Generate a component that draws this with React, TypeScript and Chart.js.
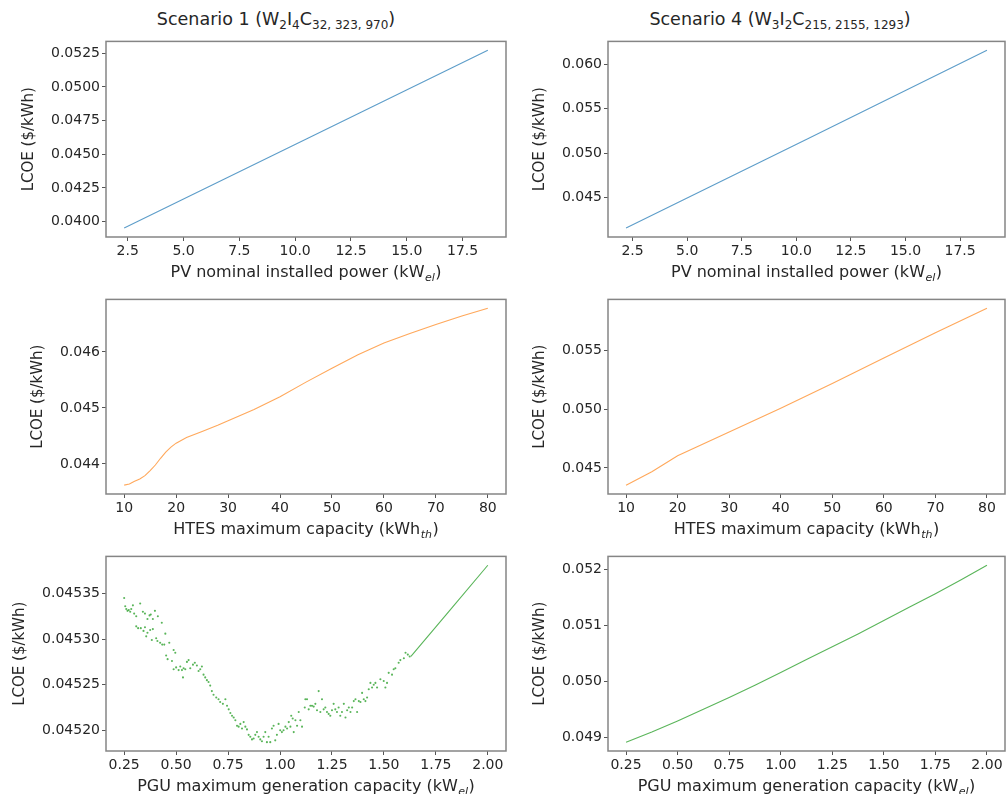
import React, { useEffect, useRef } from "react";
import { Chart, registerables } from "chart.js";
Chart.register(...registerables);

const FONT = '"DejaVu Sans", "Liberation Sans", sans-serif';

// ---------- DATA ----------
// Scenario 1, PV sweep
const pvX1 = [2.34, 10.5, 18.63];
const pvY1 = [0.03951, 0.04613, 0.05272];
// Scenario 4, PV sweep
const pvX4 = [2.2, 10.5, 18.73];
const pvY4 = [0.04156, 0.05157, 0.06156];

// Scenario 1, HTES sweep
const htesX1 = [10, 11, 12, 13, 14, 15, 16, 17, 18, 19, 20, 22, 25, 28, 30, 35, 40, 45, 50, 55, 60, 65, 70, 75, 80];
const htesY1 = [0.04362, 0.04364, 0.04369, 0.04373, 0.04379, 0.04388, 0.04398, 0.0441, 0.04421, 0.0443, 0.04437, 0.04447,
  0.04458, 0.04469, 0.04477, 0.04497, 0.0452, 0.04546, 0.04571, 0.04595, 0.04616, 0.04633, 0.04649, 0.04664, 0.04678];
// Scenario 4, HTES sweep
const htesX4 = [10, 15, 20, 30, 40, 50, 60, 70, 80];
const htesY4 = [0.04353, 0.04467, 0.04603, 0.04804, 0.05007, 0.05218, 0.05435, 0.05648, 0.05857];

// Scenario 1, PGU sweep (scattered part, [x, LCOE])
const pguScatter1: [number, number][] = [
  [0.25, 0.045345], [0.255, 0.045336], [0.26, 0.045333], [0.266, 0.045331], [0.272, 0.045332], [0.279, 0.04533],
  [0.284, 0.045333], [0.292, 0.045337], [0.298, 0.045328], [0.308, 0.045325], [0.308, 0.045314], [0.317, 0.045312],
  [0.327, 0.045339], [0.33, 0.045312], [0.34, 0.04533], [0.343, 0.045309], [0.35, 0.045328], [0.35, 0.045313],
  [0.356, 0.045303], [0.362, 0.045322], [0.362, 0.045307], [0.372, 0.045326], [0.375, 0.04531], [0.378, 0.045327],
  [0.383, 0.045299], [0.388, 0.045322], [0.388, 0.045311], [0.398, 0.045331], [0.404, 0.045301], [0.41, 0.045298],
  [0.412, 0.045325], [0.423, 0.045296], [0.431, 0.045318], [0.433, 0.045294], [0.443, 0.045294], [0.448, 0.045306],
  [0.452, 0.045282], [0.459, 0.045278], [0.467, 0.045296], [0.48, 0.045276], [0.488, 0.045288], [0.488, 0.045267],
  [0.496, 0.045285], [0.5, 0.045269], [0.512, 0.045266], [0.52, 0.04527], [0.528, 0.045266], [0.533, 0.045258],
  [0.536, 0.045268], [0.544, 0.045267], [0.552, 0.045275], [0.56, 0.045277], [0.568, 0.045268], [0.581, 0.045272],
  [0.59, 0.045274], [0.6, 0.045271], [0.608, 0.045265], [0.616, 0.045267], [0.624, 0.04527], [0.632, 0.045261],
  [0.64, 0.045258], [0.648, 0.045255], [0.656, 0.045253], [0.664, 0.045249], [0.672, 0.045243], [0.68, 0.045239],
  [0.693, 0.045236], [0.704, 0.045234], [0.712, 0.045231], [0.725, 0.045229], [0.737, 0.045234], [0.745, 0.045227],
  [0.753, 0.045223], [0.761, 0.045219], [0.769, 0.045216], [0.777, 0.045214], [0.785, 0.045211], [0.793, 0.045205],
  [0.801, 0.045204], [0.809, 0.045207], [0.817, 0.045202], [0.825, 0.045209], [0.833, 0.045204], [0.841, 0.045201],
  [0.849, 0.045195], [0.857, 0.045193], [0.865, 0.04519], [0.873, 0.045191], [0.881, 0.045195], [0.889, 0.045198],
  [0.897, 0.045193], [0.905, 0.04519], [0.913, 0.045188], [0.921, 0.045193], [0.929, 0.045198], [0.937, 0.045187],
  [0.945, 0.045193], [0.953, 0.045187], [0.961, 0.045202], [0.969, 0.045205], [0.977, 0.045189], [0.985, 0.045195],
  [0.993, 0.045207], [1.001, 0.0452], [1.009, 0.045198], [1.017, 0.0452], [1.026, 0.045204], [1.034, 0.045202],
  [1.042, 0.045209], [1.05, 0.045204], [1.054, 0.045216], [1.061, 0.045213], [1.066, 0.045198], [1.074, 0.045211],
  [1.082, 0.045205], [1.09, 0.04522], [1.098, 0.045211], [1.106, 0.045204], [1.119, 0.045225], [1.122, 0.045234],
  [1.13, 0.045234], [1.138, 0.045223], [1.146, 0.045227], [1.154, 0.045227], [1.162, 0.045226], [1.17, 0.045229],
  [1.178, 0.045222], [1.186, 0.045243], [1.194, 0.04522], [1.202, 0.045234], [1.21, 0.045223], [1.218, 0.045225],
  [1.226, 0.04522], [1.234, 0.045218], [1.242, 0.045216], [1.25, 0.045222], [1.258, 0.045229], [1.266, 0.045223],
  [1.274, 0.04522], [1.282, 0.045225], [1.29, 0.045216], [1.298, 0.04522], [1.307, 0.045229], [1.315, 0.045214],
  [1.323, 0.045222], [1.331, 0.045225], [1.339, 0.04522], [1.347, 0.045225], [1.355, 0.045232], [1.363, 0.045234],
  [1.371, 0.04522], [1.379, 0.045232], [1.387, 0.045231], [1.395, 0.045241], [1.403, 0.045234], [1.411, 0.045232],
  [1.419, 0.045236], [1.427, 0.045245], [1.435, 0.045252], [1.443, 0.045247], [1.451, 0.04525], [1.459, 0.045252],
  [1.467, 0.045247], [1.483, 0.045256], [1.499, 0.045254], [1.507, 0.045247], [1.515, 0.045252], [1.523, 0.045263],
  [1.539, 0.045261], [1.547, 0.045267], [1.555, 0.045268], [1.571, 0.045274], [1.579, 0.045277], [1.596, 0.045279],
  [1.604, 0.045285], [1.615, 0.045283], [1.624, 0.045281],
];
// Scenario 1, PGU sweep (smooth part)
const pguLineX1 = [1.63, 1.815, 2.0];
const pguLineY1 = [0.045281, 0.045331, 0.045381];
// Scenario 4, PGU sweep
const pguX4 = [0.25, 0.375, 0.5, 0.625, 0.75, 0.875, 1.0, 1.125, 1.25, 1.375, 1.5, 1.625, 1.75, 1.875, 2.0];
const pguY4 = [0.04891, 0.04909, 0.04929, 0.0495, 0.04971, 0.04993, 0.05016, 0.05039, 0.05062, 0.05085, 0.05109,
  0.05133, 0.05157, 0.05182, 0.05208];

// Tick values
const pvTicks = [2.5, 5, 7.5, 10, 12.5, 15, 17.5];
const htesTicks = [10, 20, 30, 40, 50, 60, 70, 80];
const pguTicks = [0.25, 0.5, 0.75, 1.0, 1.25, 1.5, 1.75, 2.0];
const lcoeTicksPV1 = [0.04, 0.0425, 0.045, 0.0475, 0.05, 0.0525];
const lcoeTicksPV4 = [0.045, 0.05, 0.055, 0.06];
const lcoeTicksHTES1 = [0.044, 0.045, 0.046];
const lcoeTicksHTES4 = [0.045, 0.05, 0.055];
const lcoeTicksPGU1 = [0.0452, 0.04525, 0.0453, 0.04535];
const lcoeTicksPGU4 = [0.049, 0.05, 0.051, 0.052];

const BLUE = "rgba(31,119,180,0.72)";
const ORANGE = "rgba(255,127,14,0.68)";
const GREEN = "rgba(44,160,44,0.78)";

const zip = (xs: number[], ys: number[]) => xs.map((x, i) => ({ x, y: ys[i] }));

type Series = { pts: { x: number; y: number }[]; color: string; dots?: boolean };
type Panel = {
  box: [number, number, number, number];
  series: Series[];
  xTicks: number[];
  xDec: number;
  yTicks: number[];
  yDec: number;
  xTitle: [string, string, string];
};

const YW = 106;
const PT = 8;
const XH = 44;
const PR = 2;

const panels: Panel[] = [
  {
    box: [106, 39, 506, 237],
    series: [{ pts: zip(pvX1, pvY1), color: BLUE }],
    xTicks: pvTicks, xDec: 1, yTicks: lcoeTicksPV1, yDec: 4,
    xTitle: ["PV nominal installed power (kW", "el", ")"],
  },
  {
    box: [608, 39, 1005, 237],
    series: [{ pts: zip(pvX4, pvY4), color: BLUE }],
    xTicks: pvTicks, xDec: 1, yTicks: lcoeTicksPV4, yDec: 3,
    xTitle: ["PV nominal installed power (kW", "el", ")"],
  },
  {
    box: [106, 297, 506, 494],
    series: [{ pts: zip(htesX1, htesY1), color: ORANGE }],
    xTicks: htesTicks, xDec: 0, yTicks: lcoeTicksHTES1, yDec: 3,
    xTitle: ["HTES maximum capacity (kWh", "th", ")"],
  },
  {
    box: [608, 297, 1005, 494],
    series: [{ pts: zip(htesX4, htesY4), color: ORANGE }],
    xTicks: htesTicks, xDec: 0, yTicks: lcoeTicksHTES4, yDec: 3,
    xTitle: ["HTES maximum capacity (kWh", "th", ")"],
  },
  {
    box: [106, 554, 506, 751],
    series: [
      { pts: pguScatter1.map(([x, y]) => ({ x, y })), color: GREEN, dots: true },
      { pts: zip(pguLineX1, pguLineY1), color: GREEN },
    ],
    xTicks: pguTicks, xDec: 2, yTicks: lcoeTicksPGU1, yDec: 5,
    xTitle: ["PGU maximum generation capacity (kW", "el", ")"],
  },
  {
    box: [608, 554, 1005, 751],
    series: [{ pts: zip(pguX4, pguY4), color: GREEN }],
    xTicks: pguTicks, xDec: 2, yTicks: lcoeTicksPGU4, yDec: 3,
    xTitle: ["PGU maximum generation capacity (kW", "el", ")"],
  },
];

function range(vals: number[]) {
  const mn = Math.min(...vals);
  const mx = Math.max(...vals);
  const pad = (mx - mn) * 0.05;
  return [mn - pad, mx + pad];
}

function PanelChart({ p }: { p: Panel }) {
  const ref = useRef<HTMLCanvasElement | null>(null);
  const [l, t, r, b] = p.box;
  const w = r - l + YW + PR;
  const h = b - t + PT + XH;
  useEffect(() => {
    if (!ref.current) return;
    const allX = p.series.flatMap((s) => s.pts.map((q) => q.x));
    const allY = p.series.flatMap((s) => s.pts.map((q) => q.y));
    const [xmin, xmax] = range(allX);
    const [ymin, ymax] = range(allY);
    const deco = {
      id: "deco",
      afterDraw(chart: any) {
        const { ctx, chartArea: a } = chart;
        ctx.save();
        ctx.strokeStyle = "#858585";
        ctx.lineWidth = 1.5;
        ctx.strokeRect(a.left, a.top, a.right - a.left, a.bottom - a.top);
        // y title
        ctx.font = `14px ${FONT}`;
        let maxW = 0;
        p.yTicks.forEach((v) => {
          maxW = Math.max(maxW, ctx.measureText(v.toFixed(p.yDec)).width);
        });
        const cx = a.left - 6 - maxW - 22;
        ctx.translate(cx, (a.top + a.bottom) / 2);
        ctx.rotate(-Math.PI / 2);
        ctx.font = `15px ${FONT}`;
        ctx.fillStyle = "#262626";
        ctx.textAlign = "center";
        ctx.textBaseline = "middle";
        ctx.fillText("LCOE ($/kWh)", 0, 0);
        ctx.restore();
        // x title with subscript
        ctx.save();
        ctx.fillStyle = "#262626";
        ctx.textAlign = "left";
        ctx.textBaseline = "alphabetic";
        const mainF = `16px ${FONT}`;
        const subF = `italic 11px ${FONT}`;
        ctx.font = mainF;
        const w1 = ctx.measureText(p.xTitle[0]).width;
        const w3 = ctx.measureText(p.xTitle[2]).width;
        ctx.font = subF;
        const w2 = ctx.measureText(p.xTitle[1]).width;
        const total = w1 + w2 + w3 + 1;
        let x = (a.left + a.right) / 2 - total / 2;
        const base = a.bottom + 40;
        ctx.font = mainF;
        ctx.fillText(p.xTitle[0], x, base);
        x += w1 + 0.5;
        ctx.font = subF;
        ctx.fillText(p.xTitle[1], x, base + 3.5);
        x += w2 + 0.5;
        ctx.font = mainF;
        ctx.fillText(p.xTitle[2], x, base);
        ctx.restore();
      },
    };
    const chart = new Chart(ref.current, {
      type: "scatter",
      data: {
        datasets: p.series.map((s) => ({
          data: s.pts,
          showLine: !s.dots,
          borderColor: s.color,
          backgroundColor: s.color,
          borderWidth: 1.1,
          pointRadius: s.dots ? 1.05 : 0,
          pointBorderWidth: 0,
          pointHoverRadius: 0,
        })),
      },
      options: {
        responsive: false,
        animation: false,
        events: [],
        layout: { padding: { top: PT, right: PR, left: 0, bottom: 0 } },
        plugins: { legend: { display: false }, tooltip: { enabled: false } },
        scales: {
          x: {
            type: "linear",
            min: xmin,
            max: xmax,
            afterBuildTicks: (s: any) => {
              s.ticks = p.xTicks.map((v) => ({ value: v }));
            },
            afterFit: (s: any) => {
              s.height = XH;
            },
            ticks: {
              autoSkip: false,
              maxRotation: 0,
              minRotation: 0,
              padding: 2,
              color: "#262626",
              font: { family: FONT, size: 14 },
              callback: (v: any) => Number(v).toFixed(p.xDec),
            },
            grid: { drawOnChartArea: false, drawTicks: true, tickLength: 4, color: "#555", lineWidth: 1 },
            border: { display: false },
          },
          y: {
            type: "linear",
            min: ymin,
            max: ymax,
            afterBuildTicks: (s: any) => {
              s.ticks = p.yTicks.map((v) => ({ value: v }));
            },
            afterFit: (s: any) => {
              s.width = YW;
            },
            ticks: {
              autoSkip: false,
              padding: 2,
              color: "#262626",
              font: { family: FONT, size: 14 },
              callback: (v: any) => Number(v).toFixed(p.yDec),
            },
            grid: { drawOnChartArea: false, drawTicks: true, tickLength: 4, color: "#555", lineWidth: 1 },
            border: { display: false },
          },
        },
      } as any,
      plugins: [deco],
    });
    return () => chart.destroy();
  }, []);
  return (
    <canvas
      ref={ref}
      width={w}
      height={h}
      style={{ position: "absolute", left: l - YW, top: t - PT, width: w, height: h }}
    />
  );
}

const subStyle: React.CSSProperties = { fontSize: 12, position: "relative", top: 4 };

function ColTitle({ cx, children }: { cx: number; children: React.ReactNode }) {
  return (
    <div
      style={{
        position: "absolute",
        left: cx,
        top: 9,
        transform: "translateX(-50%)",
        whiteSpace: "nowrap",
        fontFamily: FONT,
        fontSize: 17.5,
        lineHeight: "20px",
        color: "#262626",
      }}
    >
      {children}
    </div>
  );
}

export default function App() {
  return (
    <div
      style={{
        position: "absolute",
        left: 0,
        top: 0,
        width: 1006,
        height: 794,
        overflow: "hidden",
        background: "#fff",
      }}
    >
      <ColTitle cx={276}>
        Scenario 1 (W<span style={subStyle}>2</span>I<span style={subStyle}>4</span>C
        <span style={subStyle}>32, 323, 970</span>)
      </ColTitle>
      <ColTitle cx={780}>
        Scenario 4 (W<span style={subStyle}>3</span>I<span style={subStyle}>2</span>C
        <span style={subStyle}>215, 2155, 1293</span>)
      </ColTitle>
      {panels.map((p, i) => (
        <PanelChart key={i} p={p} />
      ))}
    </div>
  );
}
